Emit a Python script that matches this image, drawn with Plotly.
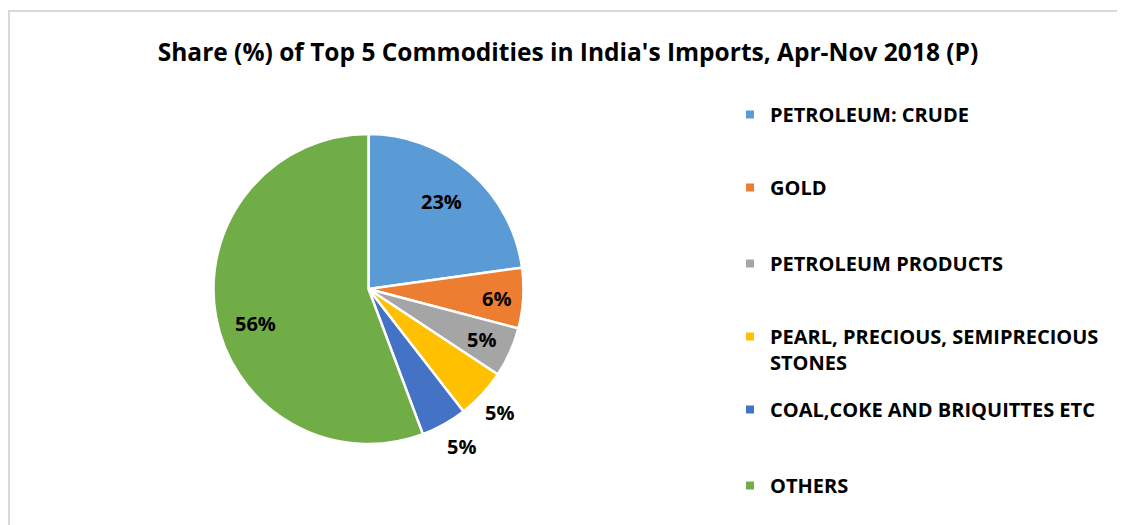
import math
import plotly.graph_objects as go

labels = ["PETROLEUM: CRUDE", "GOLD", "PETROLEUM PRODUCTS",
          "PEARL, PRECIOUS, SEMIPRECIOUS STONES", "COAL,COKE AND BRIQUITTES ETC", "OTHERS"]
legend_labels = ["PETROLEUM: CRUDE", "GOLD", "PETROLEUM PRODUCTS",
                 "PEARL, PRECIOUS, SEMIPRECIOUS<br>STONES", "COAL,COKE AND BRIQUITTES ETC", "OTHERS"]
shares = [22.8, 6.3, 5.2, 5.2, 4.8, 55.7]
colors = ["#5B9BD5", "#ED7D31", "#A5A5A5", "#FFC000", "#4472C4", "#70AD47"]
# data-label placement style: radius as fraction of pie radius, angular nudge in degrees
label_radius = [0.743, 0.834, 0.805, 1.177, 1.19, 0.772]
label_nudge = [-1.5, 1.0, 0.0, 0.5, -1.4, -6.5]

FONT = "Open Sans"
W, H = 1125, 525
OFF = 8  # page body margin in the browser


def px(sx):
    return (sx - OFF) / W


def py(sy):
    return 1 - (sy - OFF) / H


CX, CY, R = 368.5, 289, 153.5

fig = go.Figure()
fig.add_trace(go.Pie(
    labels=labels, values=shares, sort=False, direction="clockwise", rotation=0,
    marker=dict(colors=colors, line=dict(color="white", width=2.5)),
    textinfo="none", showlegend=False, hoverinfo="label+percent",
    domain=dict(x=[px(CX - R - 1.5), px(CX + R + 1.5)],
                y=[py(CY + R + 1.5), py(CY - R - 1.5)]),
))

# data labels placed on each slice's bisector, computed from the values
total = sum(shares)
cum = 0.0
annotations = []
for v, rf, nd in zip(shares, label_radius, label_nudge):
    mid = (cum + v / 2) / total * 2 * math.pi + math.radians(nd)
    cum += v
    sx = CX + R * rf * math.sin(mid)
    sy = CY - R * rf * math.cos(mid)
    annotations.append(dict(
        x=px(sx), y=py(sy), xref="paper", yref="paper", showarrow=False,
        text=f"{round(v / total * 100)}%", xanchor="center", yanchor="middle",
        font=dict(family=FONT, size=20, color="black", weight="bold"),
    ))

legend_centers = [116, 189, 265, 338, 411, 487]
for i, (lab, col) in enumerate(zip(legend_labels, colors)):
    key = "legend" if i == 0 else f"legend{i+1}"
    fig.add_trace(go.Scatter(
        x=[None], y=[None], mode="markers", name=lab,
        marker=dict(symbol="square", size=8, color=col),
        legend=key, showlegend=True,
    ))
    fig.update_layout({key: dict(
        x=px(730), xanchor="left", y=py(legend_centers[i] - 21), yanchor="top",
        valign="top", bgcolor="rgba(0,0,0,0)",
        font=dict(family=FONT, size=20, color="black", weight="bold"),
    )})

fig.update_layout(
    width=W, height=H,
    margin=dict(l=0, r=0, t=0, b=0),
    paper_bgcolor="white", plot_bgcolor="white",
    xaxis=dict(visible=False), yaxis=dict(visible=False),
    title=dict(text="Share (%) of Top 5 Commodities in India's Imports, Apr-Nov 2018 (P)",
               x=px(568), xanchor="center", y=py(52), yanchor="middle",
               font=dict(family=FONT, size=24.5, color="black", weight="bold")),
    annotations=annotations,
    shapes=[dict(type="rect", xref="paper", yref="paper",
                 x0=px(9), x1=1.05, y0=-0.05, y1=py(11),
                 line=dict(color="#D9D9D9", width=2), fillcolor="rgba(0,0,0,0)",
                 layer="below")],
)

fig.write_html("out.html")
